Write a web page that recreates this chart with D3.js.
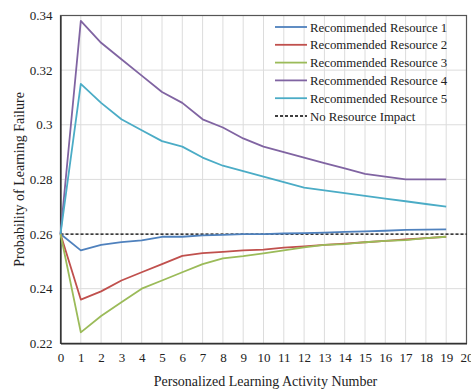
<!DOCTYPE html>
<html>
<head>
<meta charset="utf-8">
<script src="https://cdn.jsdelivr.net/npm/d3@7"></script>
<style>
  body { margin: 0; background: #fff; }
</style>
</head>
<body>
<svg id="chart" width="471" height="390"></svg>
<script>
// activity numbers 0..19
const steps = d3.range(0, 20);
const seriesNames = ['Recommended Resource 1', 'Recommended Resource 2', 'Recommended Resource 3',
  'Recommended Resource 4', 'Recommended Resource 5'];
const seriesColors = ['#4F81BD', '#C0504D', '#9BBB59', '#8064A2', '#4BACC6'];

const res1 = [0.26, 0.254, 0.256, 0.257, 0.2577, 0.259, 0.259, 0.2595, 0.2597, 0.26, 0.26, 0.2602, 0.2603, 0.2605, 0.2608, 0.261, 0.2612, 0.2615, 0.2616, 0.2617];
const res2 = [0.26, 0.236, 0.239, 0.243, 0.246, 0.249, 0.252, 0.253, 0.2535, 0.254, 0.2543, 0.255, 0.2555, 0.256, 0.2565, 0.257, 0.2575, 0.258, 0.2585, 0.259];
const res3 = [0.26, 0.224, 0.230, 0.235, 0.240, 0.243, 0.246, 0.249, 0.2511, 0.2519, 0.2529, 0.254, 0.2551, 0.256, 0.2563, 0.257, 0.2575, 0.2578, 0.2585, 0.259];
const res4 = [0.26, 0.338, 0.330, 0.324, 0.318, 0.312, 0.308, 0.302, 0.299, 0.295, 0.292, 0.290, 0.288, 0.286, 0.284, 0.282, 0.281, 0.280, 0.280, 0.280];
const res5 = [0.26, 0.315, 0.308, 0.302, 0.298, 0.294, 0.292, 0.288, 0.285, 0.283, 0.281, 0.279, 0.277, 0.276, 0.275, 0.274, 0.273, 0.272, 0.271, 0.270];
const baseline = 0.26;

const xTicks = d3.range(0, 21);
const yTicks = [0.22, 0.24, 0.26, 0.28, 0.3, 0.32, 0.34];

const FONT = "'Times New Roman'";
const svg = d3.select('#chart');
const margin = {left: 60.5, right: 4.5, top: 15.5, bottom: 46.5};
const W = 471, H = 390;

const x = d3.scaleLinear().domain([0, 20]).range([margin.left, W - margin.right]);
const y = d3.scaleLinear().domain([0.22, 0.34]).range([H - margin.bottom - 0.2, margin.top]);

// grid
svg.append('g').selectAll('line').data(xTicks.slice(1, -1)).enter().append('line')
  .attr('x1', d => x(d)).attr('x2', d => x(d))
  .attr('y1', y(0.22)).attr('y2', y(0.34))
  .attr('stroke', '#dcdcdc').attr('stroke-width', 1);
svg.append('g').selectAll('line').data(yTicks.slice(1, -1)).enter().append('line')
  .attr('x1', x(0)).attr('x2', x(20))
  .attr('y1', d => y(d)).attr('y2', d => y(d))
  .attr('stroke', '#dcdcdc').attr('stroke-width', 1);

// frame
svg.append('rect')
  .attr('x', x(0)).attr('y', y(0.34))
  .attr('width', x(20) - x(0)).attr('height', y(0.22) - y(0.34))
  .attr('fill', 'none').attr('stroke', '#555').attr('stroke-width', 1.2);

// axes
const xAxis = svg.append('g').attr('transform', `translate(0,${y(0.22)})`)
  .call(d3.axisBottom(x).tickValues(xTicks).tickSize(0).tickPadding(9).tickFormat(d3.format('d')));
const yAxis = svg.append('g').attr('transform', `translate(${x(0)},0)`)
  .call(d3.axisLeft(y).tickValues(yTicks).tickSize(0).tickPadding(8).tickFormat(d => String(+d.toFixed(2))));
[xAxis, yAxis].forEach(a => {
  a.attr('font-family', null).attr('font-size', null);
  a.select('.domain').attr('stroke', '#222').attr('stroke-width', 1.2);
  a.selectAll('text').attr('fill', '#222').attr('font-family', FONT).attr('font-size', 13);
});

// baseline
svg.append('line')
  .attr('x1', x(0)).attr('x2', x(20))
  .attr('y1', y(baseline)).attr('y2', y(baseline))
  .attr('stroke', '#000').attr('stroke-width', 1.3).attr('stroke-dasharray', '3,2');

const line = d3.line().x((d, i) => x(steps[i])).y(d => y(d));
const allSeries = [res1, res2, res3, res4, res5];
allSeries.forEach((s, k) => {
  svg.append('path').datum(s)
    .attr('d', line)
    .attr('fill', 'none')
    .attr('stroke', seriesColors[k])
    .attr('stroke-width', 1.8)
    .attr('stroke-linejoin', 'round');
});

// legend
const legItems = seriesNames.map((n, i) => ({name: n, color: seriesColors[i], dash: null}))
  .concat([{name: 'No Resource Impact', color: '#000', dash: '3,2'}]);
const leg = svg.append('g').attr('transform', 'translate(275,27)');
legItems.forEach((d, i) => {
  const g = leg.append('g').attr('transform', `translate(0,${i * 17.8})`);
  g.append('line').attr('x1', 0).attr('x2', 32).attr('y1', 0).attr('y2', 0)
    .attr('stroke', d.color).attr('stroke-width', d.dash ? 1.3 : 1.8)
    .attr('stroke-dasharray', d.dash);
  g.append('text').attr('x', 35).attr('y', 4.5).attr('fill', '#222')
    .attr('font-family', FONT).attr('font-size', 12.8).text(d.name);
});

// titles
svg.append('text')
  .attr('x', x(10) + 2).attr('y', 386)
  .attr('text-anchor', 'middle').attr('font-family', FONT).attr('font-size', 14).attr('fill', '#222')
  .text('Personalized Learning Activity Number');
svg.append('text')
  .attr('transform', `translate(24,${(y(0.22) + y(0.34)) / 2}) rotate(-90)`)
  .attr('text-anchor', 'middle').attr('font-family', FONT).attr('font-size', 14).attr('fill', '#222')
  .text('Probability of Learning Failure');
</script>
</body>
</html>
